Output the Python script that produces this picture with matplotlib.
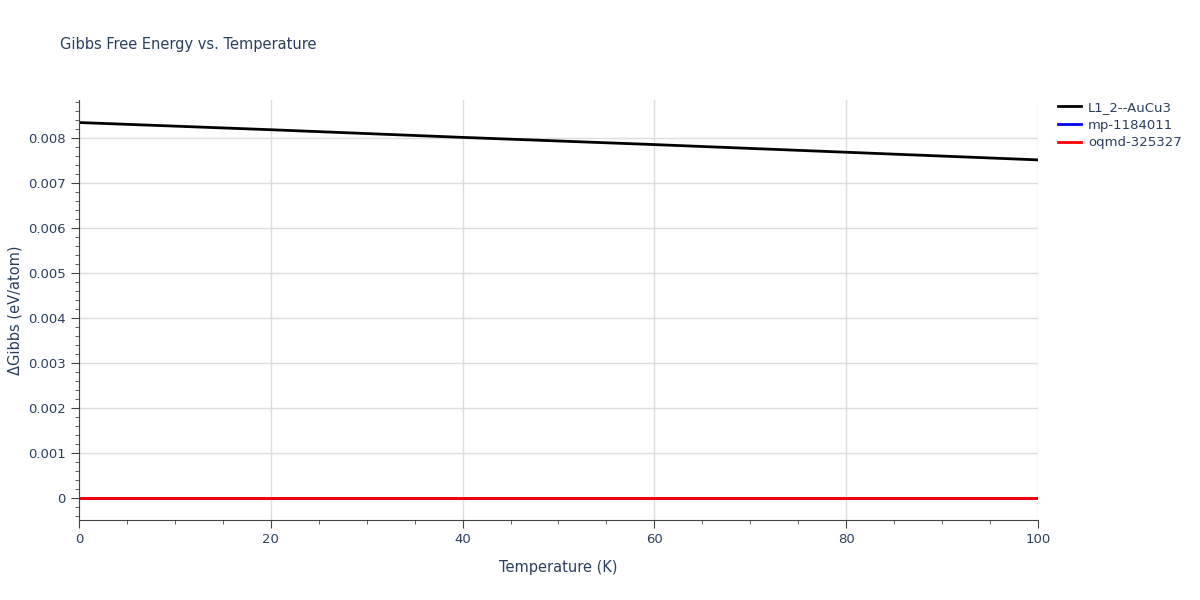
import numpy as np
import matplotlib.pyplot as plt
from matplotlib.ticker import MultipleLocator, FuncFormatter

# data
temps = [0, 20, 40, 60, 80, 100]
g_l12 = [0.00834, 0.00818, 0.00801, 0.00785, 0.00768, 0.00751]
g_mp = [0.0, 0.0, 0.0, 0.0, 0.0, 0.0]
g_oqmd = [0.0, 0.0, 0.0, 0.0, 0.0, 0.0]

labels = ["L1_2--AuCu3", "mp-1184011", "oqmd-325327"]
colors = ["black", "blue", "red"]
text_col = "#2a3f5f"

fig = plt.figure(figsize=(12, 6), dpi=100)
ax = fig.add_axes([0.0658, 0.1333, 0.7992, 0.7])

for vals, lab, col in zip([g_l12, g_mp, g_oqmd], labels, colors):
    ax.plot(temps, vals, color=col, lw=2, label=lab)

ax.set_xlim(0, 100)
ax.set_ylim(-0.00049, 0.00884)
ax.xaxis.set_major_locator(MultipleLocator(20))
ax.xaxis.set_minor_locator(MultipleLocator(5))
ax.yaxis.set_major_locator(MultipleLocator(0.001))
ax.yaxis.set_minor_locator(MultipleLocator(0.0002))
ax.yaxis.set_major_formatter(FuncFormatter(lambda v, p: "0" if abs(v) < 1e-12 else f"{v:.3f}"))

ax.grid(True, which="major", color="#dddddd", lw=1)
ax.set_axisbelow(True)
for s in ["top", "right"]:
    ax.spines[s].set_visible(False)
for s in ["left", "bottom"]:
    ax.spines[s].set_color("#444444")
ax.tick_params(which="major", direction="out", length=6, color="#444444",
               labelcolor=text_col, labelsize=9.5)
ax.tick_params(which="minor", direction="out", length=3, color="#444444")

ax.set_xlabel("Temperature (K)", color=text_col, fontsize=10.5, labelpad=10)
ax.set_ylabel("ΔGibbs (eV/atom)", color=text_col, fontsize=10.5)
fig.text(0.05, 0.925, "Gibbs Free Energy vs. Temperature", color=text_col,
         fontsize=10.5, va="center")

leg = ax.legend(loc="upper left", bbox_to_anchor=(1.015, 1.01), frameon=False,
                fontsize=9.5, handlelength=1.8, handletextpad=0.5,
                labelspacing=0.35, borderaxespad=0)
for t in leg.get_texts():
    t.set_color(text_col)

fig.savefig("out.png")
